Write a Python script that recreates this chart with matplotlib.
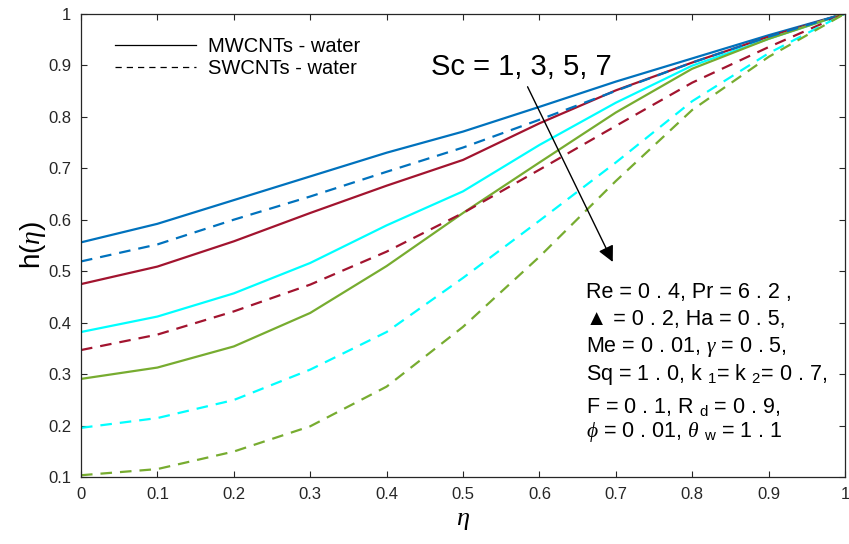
import matplotlib
matplotlib.use("Agg")
import matplotlib.pyplot as plt
from matplotlib.lines import Line2D

plt.rcParams["font.family"] = ["Liberation Sans", "DejaVu Sans"]
plt.rcParams["mathtext.fontset"] = "custom"
plt.rcParams["mathtext.rm"] = "Liberation Sans"
plt.rcParams["mathtext.it"] = "Liberation Serif:italic"

# similarity variable
eta = [0.0, 0.1, 0.2, 0.3, 0.4, 0.5, 0.6, 0.7, 0.8, 0.9, 1.0]

# concentration profiles h(eta) for Sc = 1, 3, 5, 7
mwcnt_sc1 = [0.556, 0.592, 0.638, 0.684, 0.730, 0.771, 0.819, 0.868, 0.913, 0.958, 1.0]
mwcnt_sc3 = [0.475, 0.509, 0.558, 0.613, 0.666, 0.716, 0.787, 0.851, 0.905, 0.955, 1.0]
mwcnt_sc5 = [0.382, 0.412, 0.457, 0.516, 0.589, 0.655, 0.745, 0.827, 0.899, 0.951, 1.0]
mwcnt_sc7 = [0.291, 0.313, 0.354, 0.419, 0.510, 0.613, 0.711, 0.808, 0.893, 0.951, 1.0]

swcnt_sc1 = [0.519, 0.552, 0.600, 0.645, 0.693, 0.740, 0.794, 0.850, 0.905, 0.955, 1.0]
swcnt_sc3 = [0.347, 0.377, 0.422, 0.474, 0.538, 0.613, 0.697, 0.782, 0.866, 0.935, 1.0]
swcnt_sc5 = [0.196, 0.215, 0.250, 0.309, 0.382, 0.487, 0.598, 0.711, 0.830, 0.923, 1.0]
swcnt_sc7 = [0.104, 0.116, 0.150, 0.199, 0.276, 0.392, 0.528, 0.675, 0.813, 0.916, 1.0]

colors = ["#0072BD", "#A2142F", "#00FFFF", "#77AC30"]
x_ticks = [0, 0.1, 0.2, 0.3, 0.4, 0.5, 0.6, 0.7, 0.8, 0.9, 1]
x_tick_labels = ["0", "0.1", "0.2", "0.3", "0.4", "0.5", "0.6", "0.7", "0.8", "0.9", "1"]
y_ticks = [0.1, 0.2, 0.3, 0.4, 0.5, 0.6, 0.7, 0.8, 0.9, 1]
y_tick_labels = ["0.1", "0.2", "0.3", "0.4", "0.5", "0.6", "0.7", "0.8", "0.9", "1"]

params = [
    "Re = 0 . 4, Pr = 6 . 2 ,",
    "\u25B2 = 0 . 2, Ha = 0 . 5,",
    r"Me = 0 . 01, $\gamma$ = 0 . 5,",
    r"Sq = 1 . 0, k $_{\mathrm{1}}$= k $_{\mathrm{2}}$= 0 . 7,",
    r"F = 0 . 1, R $_{\mathrm{d}}$ = 0 . 9,",
    r"$\phi$ = 0 . 01, $\theta$ $_{\mathrm{w}}$ = 1 . 1",
]

fig = plt.figure(figsize=(8.49, 5.44), dpi=100)
ax = fig.add_axes([0.0954, 0.1226, 0.8999, 0.8524])

lw = 1.6
for ys, c in zip([mwcnt_sc1, mwcnt_sc3, mwcnt_sc5, mwcnt_sc7], colors):
    ax.plot(eta, ys, color=c, lw=lw, solid_joinstyle="round")
for ys, c in zip([swcnt_sc1, swcnt_sc3, swcnt_sc5, swcnt_sc7], colors):
    ax.plot(eta, ys, color=c, lw=lw, linestyle=(0, (5.2, 3.6)),
            dash_capstyle="butt", dash_joinstyle="round")

ax.set_xlim(0, 1)
ax.set_ylim(0.1, 1)
ax.set_xticks(x_ticks)
ax.set_xticklabels(x_tick_labels)
ax.set_yticks(y_ticks)
ax.set_yticklabels(y_tick_labels)
ax.tick_params(direction="in", top=True, right=True, length=4, width=0.8,
               labelsize=12, colors="#262626", pad=7)
for s in ax.spines.values():
    s.set_color("#262626")
    s.set_linewidth(0.9)

ax.set_xlabel(r"$\eta$", fontsize=19, labelpad=4)
ax.set_ylabel(r"h($\eta$)", fontsize=20, labelpad=0)

handles = [Line2D([], [], color="k", lw=0.9),
           Line2D([], [], color="k", lw=0.9, linestyle=(0, (5, 4)))]
ax.legend(handles, ["MWCNTs - water", "SWCNTs - water"], loc="upper left",
          bbox_to_anchor=(0.0445, 0.950), frameon=False, fontsize=14.5,
          handlelength=4.0, handletextpad=0.6, labelspacing=0.15,
          borderpad=0, borderaxespad=0)

ax.text(0.576, 0.897, "Sc = 1, 3, 5, 7", fontsize=21, ha="center", va="center")
ax.annotate("", xy=(0.696, 0.518), xytext=(0.5845, 0.858),
            arrowprops=dict(arrowstyle="-|>", color="k", lw=1.0,
                            mutation_scale=24, shrinkA=0, shrinkB=0))

y_lines = [0.458, 0.406, 0.353, 0.299, 0.236, 0.188]
for t, yv in zip(params, y_lines):
    ax.text(0.6606, yv, t, fontsize=15.5, ha="left", va="center")

fig.savefig("out.png", dpi=100)
